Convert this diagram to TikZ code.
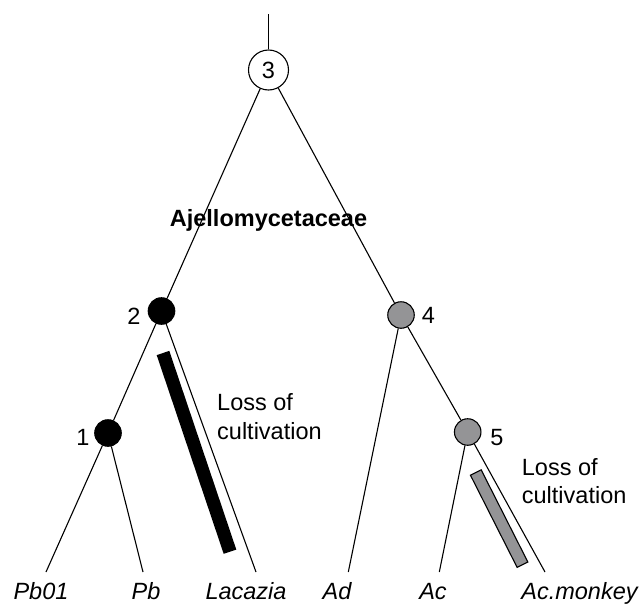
\documentclass[tikz,border=0pt]{standalone}
\usepackage{fontspec}
\setmainfont{Liberation Sans}
\usetikzlibrary{calc}
\definecolor{nodegray}{RGB}{148,148,150}
\tikzset{
  txt/.style={font=\fontsize{23.5}{28}\selectfont, inner sep=0pt},
  leaf/.style={txt, font=\fontsize{23.5}{28}\selectfont\itshape, anchor=base},
  ann/.style={txt, anchor=base west},
  num/.style={txt, anchor=base},
  branch/.style={draw=black, line width=1.1pt},
  clade/.style={circle, draw=black, line width=1.1pt, inner sep=0pt, minimum size=26.5pt},
  blacknode/.style={clade, fill=black},
  graynode/.style={clade, fill=nodegray},
  rootnode/.style={circle, draw=black, line width=1.1pt, fill=white, inner sep=0pt, minimum size=40pt, font=\fontsize{23.5}{28}\selectfont},
}
\begin{document}
\begin{tikzpicture}[x=1pt, y=-1pt]
\useasboundingbox (0,0) rectangle (640,605);
% leaf endpoints
\coordinate (top) at (268.5,14);
\coordinate (lPb01) at (46,572);
\coordinate (lPb) at (143,572);
\coordinate (lLac) at (256,572);
\coordinate (lAd) at (348.3,572);
\coordinate (lAc) at (439.3,572);
\coordinate (lAcm) at (545,572);
% internal nodes
\node[rootnode] (n3) at (268.5,70) {3};
\node[blacknode] (n2) at (161.5,311) {};
\node[blacknode] (n1) at (108,433) {};
\node[graynode] (n4) at (401,315) {};
\node[graynode] (n5) at (467.7,432) {};
% branches
\draw[branch] (top) -- (n3);
\draw[branch] (n3) -- (n2);
\draw[branch] (n3) -- (n4);
\draw[branch] (n2) -- (n1);
\draw[branch] (n2) -- (lLac);
\draw[branch] (n1) -- (lPb01);
\draw[branch] (n1) -- (lPb);
\draw[branch] (n4) -- (lAd);
\draw[branch] (n4) -- (n5);
\draw[branch] (n5) -- (lAc);
\draw[branch] (n5) -- (lAcm);
% node numbers
\node[num] (t2) at (134,324) {2};
\node[num] (t1) at (83,445) {1};
\node[num] (t4) at (428.5,323.5) {4};
\node[num] (t5) at (497,445) {5};
% family label
\node[txt, font=\fontsize{23.5}{28}\selectfont\bfseries, anchor=base] (fam) at (268.5,226) {Ajellomycetaceae};
% loss of cultivation bars
\coordinate (bA) at (163,353);
\coordinate (bB) at (230,551.7);
\fill[black] ($(bA)!6.65pt!90:(bB)$) -- ($(bA)!6.65pt!-90:(bB)$) -- ($(bB)!6.65pt!90:(bA)$) -- ($(bB)!6.65pt!-90:(bA)$) -- cycle;
\coordinate (gA) at (475.8,472.5);
\coordinate (gB) at (522.5,564.7);
\filldraw[fill=nodegray, draw=black, line width=1.1pt] ($(gA)!6pt!90:(gB)$) -- ($(gA)!6pt!-90:(gB)$) -- ($(gB)!6pt!90:(gA)$) -- ($(gB)!6pt!-90:(gA)$) -- cycle;
% annotations
\node[ann] (loss1a) at (217,410.7) {Loss of};
\node[ann] (loss1b) at (217,439.3) {cultivation};
\node[ann] (loss2a) at (521.7,475) {Loss of};
\node[ann] (loss2b) at (521.7,503.5) {cultivation};
% leaf labels
\node[leaf] (tPb01) at (41,599.5) {Pb01};
\node[leaf] (tPb) at (146,599.5) {Pb};
\node[leaf] (tLac) at (246,599.5) {Lacazia};
\node[leaf] (tAd) at (337,599.5) {Ad};
\node[leaf] (tAc) at (433,599.5) {Ac};
\node[leaf] (tAcm) at (579.5,599.5) {Ac.monkey};
\end{tikzpicture}
\end{document}
